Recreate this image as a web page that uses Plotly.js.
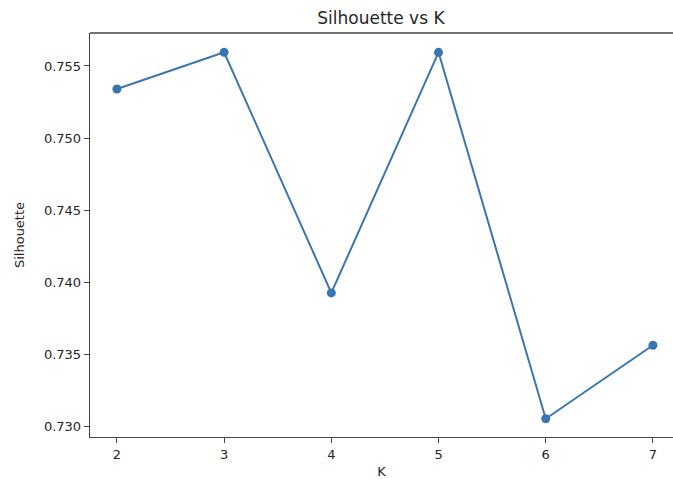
<!DOCTYPE html>
<html>
<head>
<meta charset="utf-8">
<script src="https://cdn.plot.ly/plotly-3.0.1.min.js"></script>
<style>html,body{margin:0;padding:0;background:#fff;}#chart{width:673px;height:479px;}</style>
</head>
<body>
<div id="chart"></div>
<script>
const kValues = [2, 3, 4, 5, 6, 7];
const silhouette = [0.7534, 0.75595, 0.73925, 0.75595, 0.73052, 0.73562];
const yTicks = [0.730, 0.735, 0.740, 0.745, 0.750, 0.755];
const yTickText = ["0.730", "0.735", "0.740", "0.745", "0.750", "0.755"];

const trace = {
  x: kValues, y: silhouette, type: 'scatter', mode: 'lines+markers',
  line: {color: '#3a75b1', width: 2},
  marker: {color: '#3a75b1', size: 9},
  cliponaxis: false
};
const font = {family: 'DejaVu Sans, sans-serif', size: 13, color: '#262626'};
const layout = {
  width: 673, height: 479,
  margin: {l: 90, r: 0, t: 33, b: 42},
  paper_bgcolor: '#fff', plot_bgcolor: '#fff',
  showlegend: false,
  font: font,
  title: {text: 'Silhouette vs K', font: {family: 'DejaVu Sans, sans-serif', size: 17, color: '#262626'}, x: 0.566, xanchor: 'center', y: 0.962, yanchor: 'middle'},
  shapes: [{type: 'line', xref: 'paper', yref: 'paper', x0: 0, x1: 1, y0: 1, y1: 1, line: {color: '#444', width: 1.3}}],
  xaxis: {
    range: [1.749, 7.187], tickvals: kValues, ticktext: kValues.map(String),
    showgrid: false, zeroline: false, showline: true, linecolor: '#444', linewidth: 1.3,
    ticks: 'outside', ticklen: 5, tickcolor: '#444', tickfont: font,
    title: {text: 'K', font: {family: 'DejaVu Sans, sans-serif', size: 13, color: '#262626'}, standoff: 14}
  },
  yaxis: {
    range: [0.72925, 0.75729], tickvals: yTicks, ticktext: yTickText,
    showgrid: false, zeroline: false, showline: true, linecolor: '#444', linewidth: 1.3,
    ticks: 'outside', ticklen: 5, tickcolor: '#444', tickfont: font,
    title: {text: 'Silhouette', font: {family: 'DejaVu Sans, sans-serif', size: 13, color: '#262626'}, standoff: 16}
  }
};
Plotly.newPlot('chart', [trace], layout, {staticPlot: true, displayModeBar: false});
</script>
</body>
</html>
